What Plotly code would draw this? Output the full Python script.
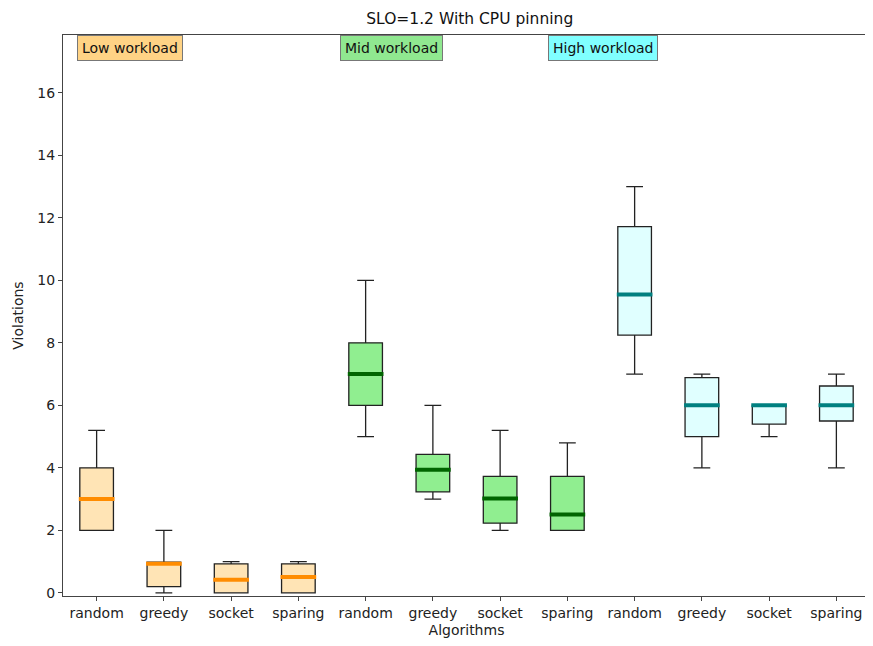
import plotly.graph_objects as go

categories = ["random", "greedy", "socket", "sparing"]
groups = ["Low workload", "Mid workload", "High workload"]

# Box statistics per group (random, greedy, socket, sparing)
low_lower = [2.0, 0.0, 0.0, 0.0]
low_q1 = [2.0, 0.2, 0.0, 0.0]
low_median = [3.0, 0.93, 0.42, 0.51]
low_q3 = [4.0, 0.98, 0.93, 0.93]
low_upper = [5.2, 2.0, 1.0, 1.0]

mid_lower = [5.0, 3.0, 2.0, 2.0]
mid_q1 = [6.0, 3.23, 2.23, 2.0]
mid_median = [7.0, 3.94, 3.02, 2.51]
mid_q3 = [8.0, 4.43, 3.73, 3.73]
mid_upper = [10.0, 6.0, 5.2, 4.8]

high_lower = [7.0, 4.0, 5.0, 4.0]
high_q1 = [8.25, 5.0, 5.4, 5.5]
high_median = [9.55, 6.0, 6.0, 6.0]
high_q3 = [11.72, 6.89, 6.0, 6.62]
high_upper = [13.0, 7.0, 6.0, 7.0]

fills = ["#FFE4B5", "#90EE90", "#E0FFFF"]
median_colors = ["#FF8C00", "#006400", "#008080"]
label_bgs = ["#FFD385", "#90E890", "#80FFFF"]

stats = [
    (low_lower, low_q1, low_median, low_q3, low_upper),
    (mid_lower, mid_q1, mid_median, mid_q3, mid_upper),
    (high_lower, high_q1, high_median, high_q3, high_upper),
]

FONT = "DejaVu Sans"
fig = go.Figure()

box_w = 0.5
tickvals = []
ticktext = []
for gi, (lo, q1, med, q3, up) in enumerate(stats):
    pos = [gi * len(categories) + i + 1 for i in range(len(categories))]
    tickvals += pos
    ticktext += categories
    fig.add_trace(go.Box(
        x=pos, lowerfence=lo, q1=q1, median=med, q3=q3, upperfence=up,
        width=box_w, whiskerwidth=0.5,
        fillcolor=fills[gi], line=dict(color="#222222", width=1.3),
        boxpoints=False, showlegend=False, name=groups[gi],
    ))
    mx, my = [], []
    for p, m in zip(pos, med):
        mx += [p - 0.265, p + 0.265, None]
        my += [m, m, None]
    fig.add_trace(go.Scatter(
        x=mx, y=my, mode="lines",
        line=dict(color=median_colors[gi], width=4),
        showlegend=False, hoverinfo="skip",
    ))

label_x = [0.0174, 0.343, 0.601]
for gi, g in enumerate(groups):
    fig.add_annotation(
        x=label_x[gi], y=1.0, xref="paper", yref="paper",
        xanchor="left", yanchor="top", text=g, showarrow=False,
        font=dict(family=FONT, size=14, color="#111111"),
        bgcolor=label_bgs[gi], bordercolor="#777777", borderwidth=1, borderpad=4,
    )

axis_common = dict(
    showline=True, linecolor="#444444", linewidth=1.3, mirror=True,
    ticks="outside", ticklen=4, tickcolor="#444444", showgrid=False, zeroline=False,
    tickfont=dict(family=FONT, size=14, color="#222222"),
)

fig.update_layout(
    width=865, height=638,
    margin=dict(l=55, r=3, t=27, b=50),
    paper_bgcolor="white", plot_bgcolor="white",
    title=dict(text="SLO=1.2 With CPU pinning", x=0.504, xref="paper", xanchor="center",
               y=1 - 11 / 638, yanchor="middle", yref="container",
               font=dict(family=FONT, size=15.5, color="#111111")),
    xaxis=dict(range=[0.5, 12.5], tickvals=tickvals, ticktext=ticktext,
               title=dict(text="Algorithms", standoff=5,
                          font=dict(family=FONT, size=14, color="#222222")),
               **axis_common),
    yaxis=dict(range=[-0.1, 17.85], tickvals=list(range(0, 17, 2)),
               title=dict(text="Violations", standoff=10,
                          font=dict(family=FONT, size=14, color="#222222")),
               **axis_common),
)

fig.write_html("out.html")
